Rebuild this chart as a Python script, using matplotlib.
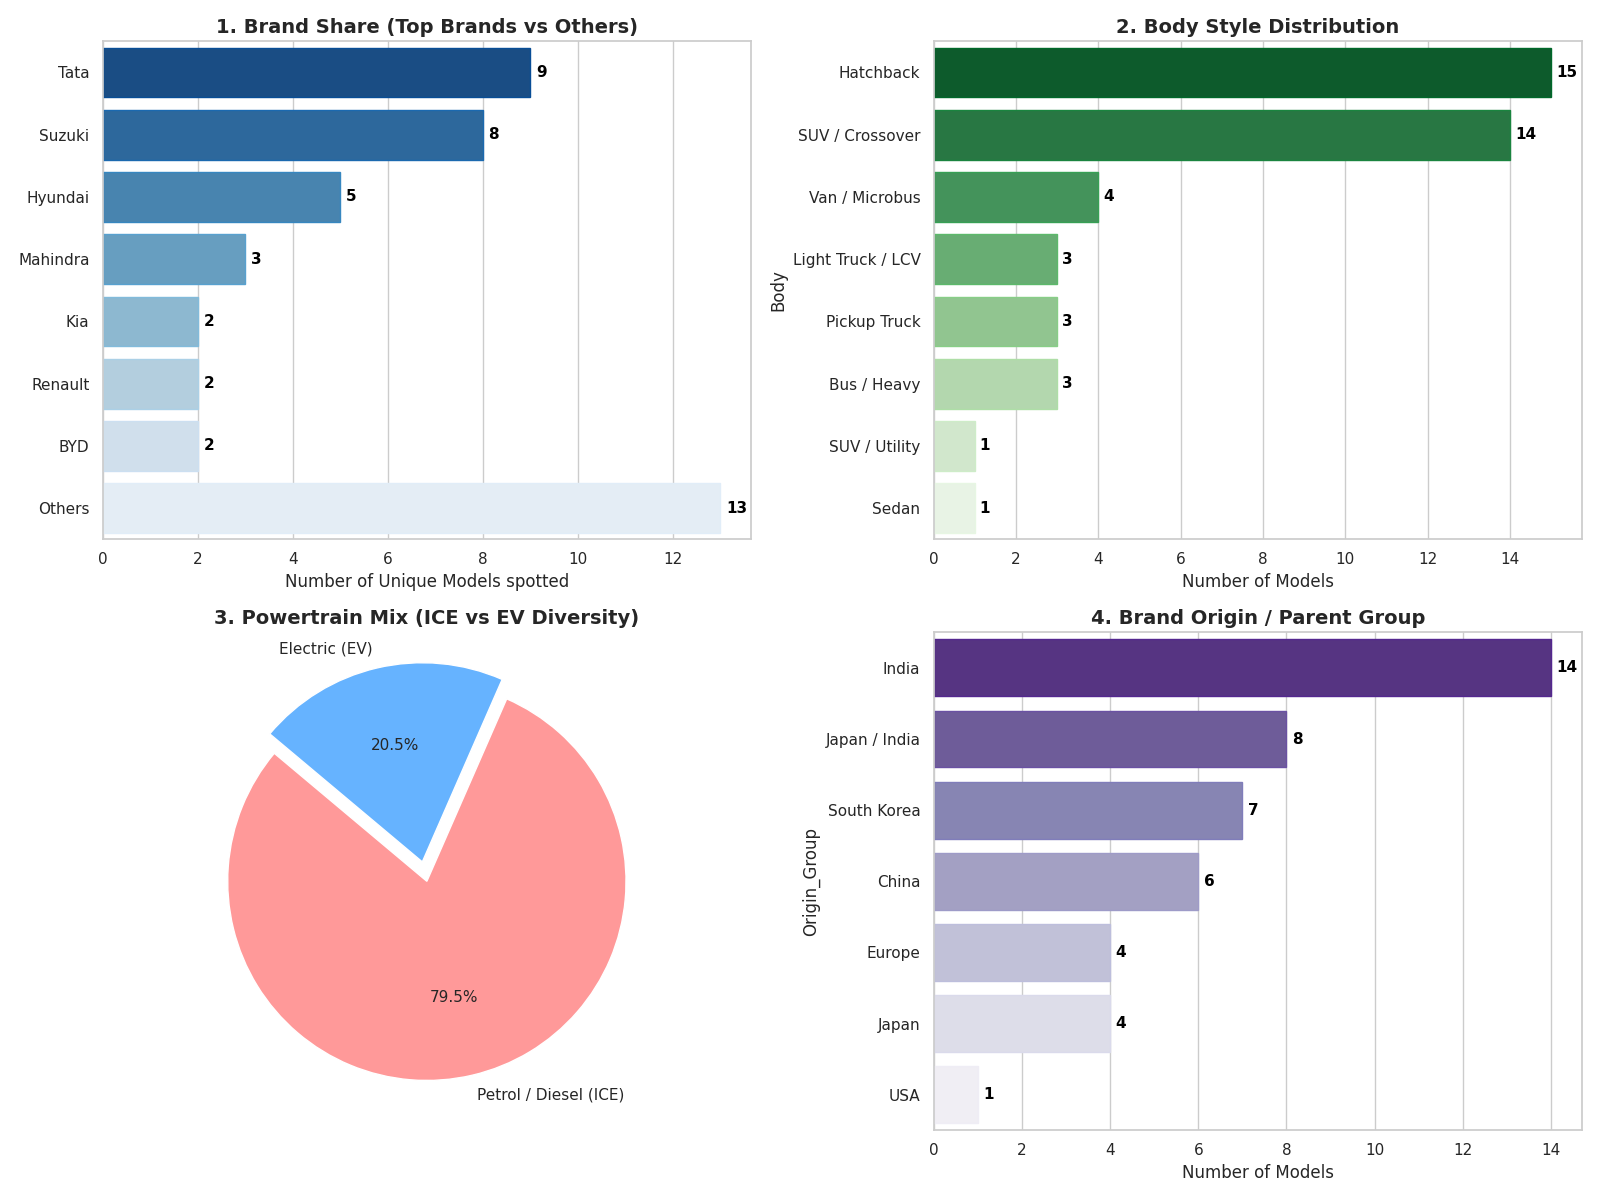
import numpy as np
import pandas as pd
import seaborn as sns
import matplotlib
matplotlib.use("Agg")
import matplotlib.pyplot as plt

sns.set_theme(style="whitegrid")

brands = ["Tata", "Suzuki", "Hyundai", "Mahindra", "Kia", "Renault", "BYD", "Others"]
brand_counts = [9, 8, 5, 3, 2, 2, 2, 13]

bodies = ["Hatchback", "SUV / Crossover", "Van / Microbus", "Light Truck / LCV",
          "Pickup Truck", "Bus / Heavy", "SUV / Utility", "Sedan"]
body_counts = [15, 14, 4, 3, 3, 3, 1, 1]

power_labels = ["Petrol / Diesel (ICE)", "Electric (EV)"]
power_counts = [35, 9]

origins = ["India", "Japan / India", "South Korea", "China", "Europe", "Japan", "USA"]
origin_counts = [14, 8, 7, 6, 4, 4, 1]

fig, axes = plt.subplots(2, 2, figsize=(16, 12), dpi=100)


def hbar(ax, names, vals, pal, title, xlabel, ylabel):
    df = pd.DataFrame({"name": names, "n": vals})
    sns.barplot(data=df, y="name", x="n", hue="name", palette=pal, legend=False, ax=ax)
    # darker outline like the original
    edge_cols = sns.color_palette(pal, len(vals))
    for p, c in zip(ax.patches, edge_cols):
        p.set_edgecolor(c)
        p.set_linewidth(1)
    for i, v in enumerate(vals):
        ax.text(v + 0.12, i, str(v), va="center", ha="left", fontweight="bold",
                fontsize=11, color="black")
    ax.set_title(title, fontsize=14, fontweight="bold")
    ax.set_xlabel(xlabel)
    ax.set_ylabel(ylabel)


hbar(axes[0, 0], brands, brand_counts, "Blues_r",
     "1. Brand Share (Top Brands vs Others)", "Number of Unique Models spotted", "")
hbar(axes[0, 1], bodies, body_counts, "Greens_r",
     "2. Body Style Distribution", "Number of Models", "Body")
hbar(axes[1, 1], origins, origin_counts, "Purples_r",
     "4. Brand Origin / Parent Group", "Number of Models", "Origin_Group")

ax = axes[1, 0]
ax.pie(power_counts, labels=power_labels, autopct="%1.1f%%", startangle=140,
       colors=["#ff9999", "#66b3ff"], explode=(0, 0.1), textprops={"fontsize": 11})
ax.set_title("3. Powertrain Mix (ICE vs EV Diversity)", fontsize=14, fontweight="bold")

plt.tight_layout()
plt.savefig("out.png")
